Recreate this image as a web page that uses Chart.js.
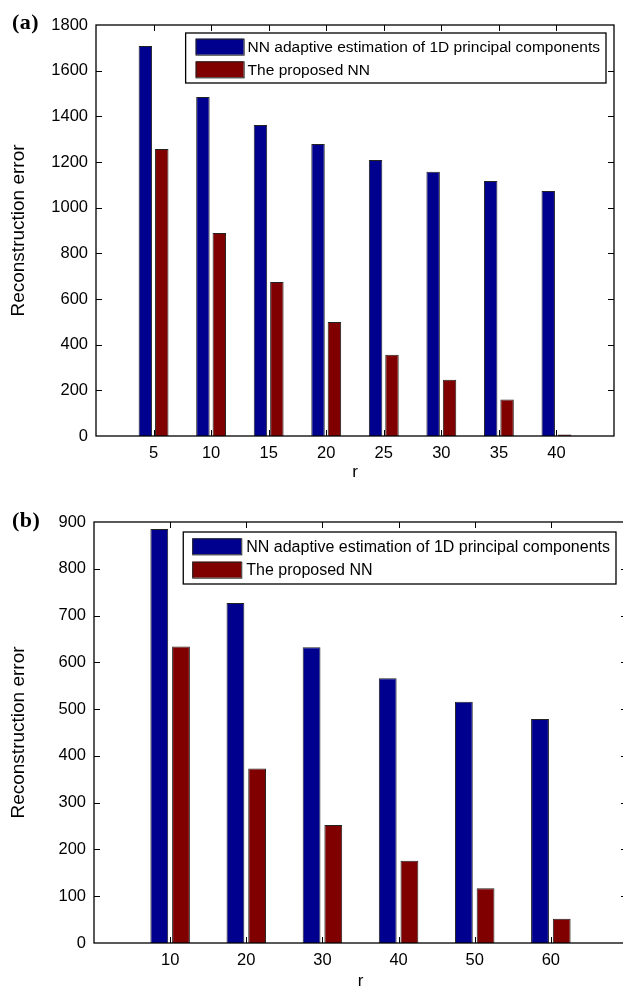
<!DOCTYPE html>
<html>
<head>
<meta charset="utf-8">
<script src="https://cdn.jsdelivr.net/npm/chart.js@4.4.1/dist/chart.umd.min.js"></script>
<style>
  body { margin: 0; width: 623px; height: 992px; overflow: hidden; background: #fff; position: relative; }
  canvas { position: absolute; left: 0; }
  .tag { position: absolute; left: 12px; font: bold 22px "Liberation Serif", "Times New Roman", serif; letter-spacing: 0.5px; color: #000; }
</style>
</head>
<body>
<canvas id="chartA" width="623" height="495" style="top:0"></canvas>
<canvas id="chartB" width="640" height="510" style="top:495px"></canvas>
<div class="tag" style="top:9px">(a)</div>
<div class="tag" style="top:507px">(b)</div>
<script>
// data
const seriesNames = ['NN adaptive estimation of 1D principal components', 'The proposed NN'];

const rA = [5, 10, 15, 20, 25, 30, 35, 40];
const adaptiveA = [1708, 1485, 1362, 1279, 1209, 1157, 1117, 1073];
const proposedA = [1257, 889, 674, 499, 356, 246, 160, 7];
const yMaxA = 1800, yStepA = 200;

const rB = [10, 20, 30, 40, 50, 60];
const adaptiveB = [885, 727, 632, 566, 516, 479];
const proposedB = [634, 373, 252, 176, 117, 52];
const yMaxB = 900, yStepB = 100;

const blue = 'rgb(0,0,143)';
const red = 'rgb(128,0,0)';
const font = '"Liberation Sans", Arial, sans-serif';

// matlab style box with inward ticks
const frameTicks = {
  id: 'frameTicks',
  beforeDatasetsDraw(chart) {
    const { ctx, chartArea: a, scales: { x, y } } = chart;
    ctx.save();
    ctx.strokeStyle = '#000';
    ctx.lineWidth = 1;
    ctx.beginPath();
    x.ticks.forEach(t => {
      if (t.value <= x.min || t.value >= x.max) return;
      const px = Math.round(x.getPixelForValue(t.value)) + 0.5;
      ctx.moveTo(px, a.top); ctx.lineTo(px, a.top + 6);
      ctx.moveTo(px, a.bottom); ctx.lineTo(px, a.bottom - 6);
    });
    y.ticks.forEach(t => {
      if (t.value <= y.min || t.value >= y.max) return;
      const py = Math.round(y.getPixelForValue(t.value)) + 0.5;
      ctx.moveTo(a.left, py); ctx.lineTo(a.left + 6, py);
      ctx.moveTo(a.right, py); ctx.lineTo(a.right - 6, py);
    });
    ctx.stroke();
    ctx.restore();
  },
  afterDatasetsDraw(chart) {
    const { ctx, chartArea: a } = chart;
    ctx.save();
    ctx.strokeStyle = '#000';
    ctx.lineWidth = 1.3;
    ctx.strokeRect(a.left, a.top, a.right - a.left, a.bottom - a.top);
    ctx.restore();
  }
};

// legend in a box, top right inside the axes
const boxLegend = {
  id: 'boxLegend',
  afterDraw(chart, args, opts) {
    const { ctx, chartArea: a } = chart;
    const sets = chart.data.datasets;
    ctx.save();
    ctx.font = opts.size + 'px ' + font;
    const tw = Math.max(...sets.map(d => ctx.measureText(d.label).width));
    const right = a.right - opts.right;
    const left = right - (opts.swatchX + opts.swatchW + opts.gap + tw + 6);
    const top = a.top + opts.top;
    const h = opts.height;
    ctx.fillStyle = '#fff';
    ctx.fillRect(left, top, right - left, h);
    ctx.strokeStyle = '#000';
    ctx.lineWidth = 1.3;
    ctx.strokeRect(left, top, right - left, h);
    sets.forEach((d, i) => {
      const cy = top + h / 2 + (i - 0.5) * opts.rowGap;
      ctx.fillStyle = d.backgroundColor;
      ctx.fillRect(left + opts.swatchX, cy - 8, opts.swatchW, 16);
      ctx.strokeStyle = '#222';
      ctx.lineWidth = 1;
      ctx.strokeRect(left + opts.swatchX + 0.5, cy - 8 + 0.5, opts.swatchW, 16);
      ctx.fillStyle = '#000';
      ctx.textBaseline = 'middle';
      ctx.fillText(d.label, left + opts.swatchX + opts.swatchW + opts.gap, cy + 1);
    });
    ctx.restore();
  }
};

function makeChart(id, cats, s1, s2, yMax, yStep, box, legendOpts) {
  return new Chart(document.getElementById(id), {
    type: 'bar',
    data: {
      datasets: [
        { label: seriesNames[0], data: s1.map((v, i) => ({ x: i + 1, y: v })), backgroundColor: blue, borderColor: '#222', borderWidth: 1 },
        { label: seriesNames[1], data: s2.map((v, i) => ({ x: i + 1, y: v })), backgroundColor: red, borderColor: '#222', borderWidth: 1 }
      ]
    },
    options: {
      responsive: false,
      animation: false,
      categoryPercentage: 0.57,
      barPercentage: 0.82,
      layout: { padding: { left: 0, top: box.top, right: box.right, bottom: 0 } },
      plugins: {
        legend: { display: false },
        tooltip: { enabled: false },
        boxLegend: legendOpts
      },
      scales: {
        x: {
          type: 'linear',
          offset: false,
          min: 0,
          max: cats.length + 1,
          grid: { display: false, drawTicks: false },
          border: { display: false },
          ticks: {
            stepSize: 1,
            autoSkip: false,
            maxRotation: 0,
            padding: 8,
            color: '#000',
            font: { family: font, size: 16.5 },
            callback: v => (v >= 1 && v <= cats.length) ? String(cats[v - 1]) : ''
          },
          title: { display: true, text: 'r', color: '#000', font: { family: font, size: 17 }, padding: { bottom: box.rPad } },
          afterFit: s => { s.height = box.xH; }
        },
        y: {
          min: 0,
          max: yMax,
          grid: { display: false, drawTicks: false },
          border: { display: false },
          ticks: { stepSize: yStep, padding: 8, color: '#000', font: { family: font, size: 16.5 }, callback: v => String(v) },
          title: { display: true, text: 'Reconstruction error', color: '#000', font: { family: font, size: 19 }, padding: { top: 7 } },
          afterFit: s => { s.width = box.yW; }
        }
      }
    },
    plugins: [frameTicks, boxLegend]
  });
}

makeChart('chartA', rA, adaptiveA, proposedA, yMaxA, yStepA,
  { top: 25, right: 9, xH: 59, yW: 96, rPad: 12.5 },
  { size: 15.5, right: 8, top: 8, height: 50, swatchX: 10, swatchW: 48, gap: 4, rowGap: 22.7 });

makeChart('chartB', rB, adaptiveB, proposedB, yMaxB, yStepB,
  { top: 27, right: 13, xH: 62, yW: 94, rPad: 13 },
  { size: 16, right: 11, top: 10, height: 52, swatchX: 9, swatchW: 49, gap: 5, rowGap: 23.3 });
</script>
</body>
</html>
